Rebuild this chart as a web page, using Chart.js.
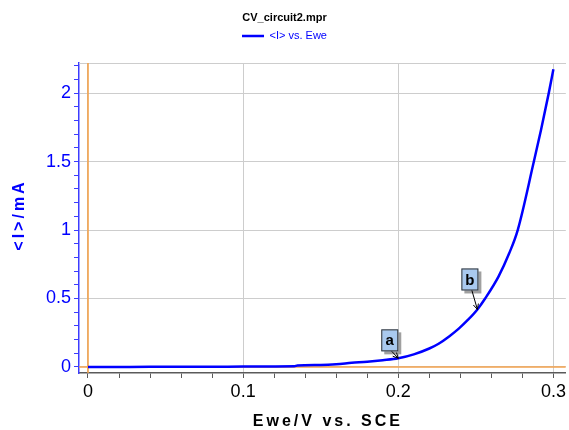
<!DOCTYPE html>
<html>
<head>
<meta charset="utf-8">
<script src="https://cdn.jsdelivr.net/npm/chart.js@4"></script>
<style>
  html, body { margin: 0; padding: 0; background: #ffffff; }
  #wrap { width: 569px; height: 430px; }
</style>
</head>
<body>
<div id="wrap"><canvas id="c" width="569" height="430"></canvas></div>
<script>
// ---- data ----
const chartTitle = 'CV_circuit2.mpr';
const seriesLabel = '<I> vs. Ewe';
const xAxisTitle = 'Ewe/V vs. SCE';
const yAxisTitle = '<I>/mA';

const ewe = [0, 0.02, 0.04, 0.06, 0.08, 0.10, 0.12, 0.133, 0.135, 0.15, 0.16, 0.17, 0.18, 0.19, 0.20,
             0.21, 0.22, 0.226, 0.233, 0.239, 0.245, 0.251, 0.256, 0.2646, 0.2715, 0.277,
             0.2874, 0.292, 0.297, 0.300];
const current = [0, 0.0005, 0.001, 0.001, 0.002, 0.003, 0.004, 0.005, 0.011, 0.015, 0.02, 0.03, 0.038,
                 0.049, 0.063, 0.092, 0.135, 0.17, 0.225, 0.28, 0.345, 0.42, 0.50, 0.66, 0.83, 1.0,
                 1.5, 1.73, 2.0, 2.175];

const xTickLabels = ['0', '0.1', '0.2', '0.3'];
const yTickLabels = ['0', '0.5', '1', '1.5', '2'];
const xMinorStep = 0.02;
const yMinorStep = 0.1;
const xRange = [-0.0058, 0.308];
const yRange = [-0.044, 2.22];

const markerLabels = ['a', 'b'];
const markerEwe = [0.2, 0.251];
const markerCurrent = [0.063, 0.42];

// ---- helpers ----
function minorTicks(lo, hi, step) {
  const out = [];
  const start = Math.ceil(lo / step - 1e-9);
  const end = Math.floor(hi / step + 1e-9);
  for (let k = start; k <= end; k++) out.push({ value: +(k * step).toFixed(6) });
  return out;
}
function labelFor(v, labels) {
  for (const l of labels) if (Math.abs(parseFloat(l) - v) < 1e-6) return l;
  return null;
}

Chart.defaults.font.family = "'Liberation Sans', Arial, sans-serif";

const ORANGE = '#f3a24c';
const GRID = '#cdcdcd';
const BLUE = '#0000ff';

const markerPlugin = {
  id: 'markers',
  afterDatasetsDraw(chart) {
    const ctx = chart.ctx;
    const xs = chart.scales.x, ys = chart.scales.y;
    const boxOff = [[-17, -29], [-16, -41]];
    const w = 17, h = 22;
    markerLabels.forEach((t, i) => {
      const px = xs.getPixelForValue(markerEwe[i]);
      const py = ys.getPixelForValue(markerCurrent[i]);
      const bx = px + boxOff[i][0], by = py + boxOff[i][1];
      ctx.save();
      ctx.fillStyle = '#a0a0a0';
      ctx.fillRect(bx + 3, by + 3, w, h);
      ctx.fillStyle = '#a9c9ef';
      ctx.fillRect(bx, by, w, h);
      ctx.strokeStyle = '#333333';
      ctx.lineWidth = 1;
      ctx.strokeRect(bx + 0.5, by + 0.5, w - 1, h - 1);
      ctx.fillStyle = '#000000';
      ctx.font = "bold 15px 'Liberation Sans', Arial, sans-serif";
      ctx.textAlign = 'center';
      ctx.textBaseline = 'middle';
      ctx.fillText(t, bx + w / 2, by + h / 2 + 1);
      const sx = bx + w / 2 + 2, sy = by + h;
      ctx.strokeStyle = '#000000';
      ctx.lineWidth = 1;
      ctx.beginPath();
      ctx.moveTo(sx, sy);
      ctx.lineTo(px, py);
      const ang = Math.atan2(py - sy, px - sx);
      const L = 6, spread = 0.45;
      ctx.moveTo(px, py);
      ctx.lineTo(px - L * Math.cos(ang - spread), py - L * Math.sin(ang - spread));
      ctx.moveTo(px, py);
      ctx.lineTo(px - L * Math.cos(ang + spread), py - L * Math.sin(ang + spread));
      ctx.stroke();
      ctx.restore();
    });
  }
};

// letter spacing for the axis titles (the reference draws them widely spaced)
const titleShift = { x: [5.5, 0], y: [0, -3] };
const spacedTitlePlugin = {
  id: 'spacedTitles',
  beforeDraw(chart) {
    ['x', 'y'].forEach(id => {
      const sc = chart.scales[id];
      if (!sc || sc._spacedPatched) return;
      const orig = sc.drawTitle;
      sc.drawTitle = function () {
        const c = this.ctx;
        c.save();
        try { c.letterSpacing = '3px'; } catch (e) {}
        c.translate(titleShift[id][0], titleShift[id][1]);
        orig.call(this);
        c.restore();
      };
      sc._spacedPatched = true;
    });
  }
};

const curve = ewe.map((e, i) => ({ x: e, y: current[i] }));

new Chart(document.getElementById('c'), {
  type: 'line',
  data: {
    datasets: [
      {
        label: seriesLabel,
        data: curve,
        borderColor: BLUE,
        backgroundColor: BLUE,
        borderWidth: 2.5,
        pointRadius: 0,
        cubicInterpolationMode: 'monotone',
        fill: false,
        order: 0
      },
      {
        label: 'E = 0',
        data: [{ x: 0, y: yRange[0] }, { x: 0, y: yRange[1] }],
        borderColor: ORANGE,
        borderWidth: 1.6,
        pointRadius: 0,
        fill: false,
        order: 1
      },
      {
        label: 'I = 0',
        data: [{ x: xRange[0], y: 0 }, { x: xRange[1], y: 0 }],
        borderColor: ORANGE,
        borderWidth: 1.6,
        pointRadius: 0,
        fill: false,
        order: 2
      }
    ]
  },
  options: {
    responsive: false,
    animation: false,
    layout: { padding: 0 },
    plugins: {
      title: {
        display: true,
        text: chartTitle,
        color: '#000000',
        font: { size: 11, weight: 'bold' },
        padding: { top: 11, bottom: 0.3 }
      },
      legend: {
        display: true,
        position: 'top',
        labels: {
          usePointStyle: true,
          pointStyle: 'line',
          pointStyleWidth: 22,
          color: BLUE,
          font: { size: 11 },
          padding: 6,
          filter: item => item.datasetIndex === 0
        }
      },
      tooltip: { enabled: false }
    },
    scales: {
      x: {
        type: 'linear',
        position: 'bottom',
        min: xRange[0],
        max: xRange[1],
        afterBuildTicks: s => { s.ticks = minorTicks(xRange[0], xRange[1], xMinorStep); },
        afterFit: s => { s.height = 57; },
        grid: {
          color: c => (c.tick && labelFor(c.tick.value, xTickLabels) !== null) ? GRID : 'rgba(0,0,0,0)',
          tickColor: '#5a5a5a',
          tickLength: 5,
          lineWidth: 1
        },
        border: { display: true, color: '#5a5a5a', width: 1.5 },
        ticks: {
          autoSkip: false,
          maxRotation: 0,
          color: '#000000',
          font: { size: 18 },
          padding: 3,
          callback: v => { const l = labelFor(v, xTickLabels); return l === null ? '' : l; }
        },
        title: {
          display: true,
          text: xAxisTitle,
          color: '#000000',
          font: { size: 16, weight: 'bold' },
          padding: { top: 0, bottom: -1 }
        }
      },
      y: {
        type: 'linear',
        position: 'left',
        min: yRange[0],
        max: yRange[1],
        afterBuildTicks: s => { s.ticks = minorTicks(yRange[0], yRange[1], yMinorStep); },
        afterFit: s => { s.width = 79; },
        grid: {
          color: c => (c.tick && labelFor(c.tick.value, yTickLabels) !== null) ? GRID : 'rgba(0,0,0,0)',
          tickColor: '#3c3cff',
          tickLength: 5,
          lineWidth: 1
        },
        border: { display: true, color: '#3c3cff', width: 1.5 },
        ticks: {
          autoSkip: false,
          color: BLUE,
          font: { size: 18 },
          padding: 3,
          callback: v => { const l = labelFor(v, yTickLabels); return l === null ? '' : l; }
        },
        title: {
          display: true,
          text: yAxisTitle,
          color: BLUE,
          font: { size: 16, weight: 'bold' },
          padding: { top: 10.4, bottom: 0 }
        }
      },
      frameTop: {
        type: 'linear',
        position: 'top',
        display: true,
        afterFit: s => { s.height = 11.5; },
        grid: { display: false, drawTicks: false },
        ticks: { display: false },
        border: { display: true, color: GRID, width: 1 }
      }
    }
  },
  plugins: [markerPlugin, spacedTitlePlugin]
});
</script>
</body>
</html>
